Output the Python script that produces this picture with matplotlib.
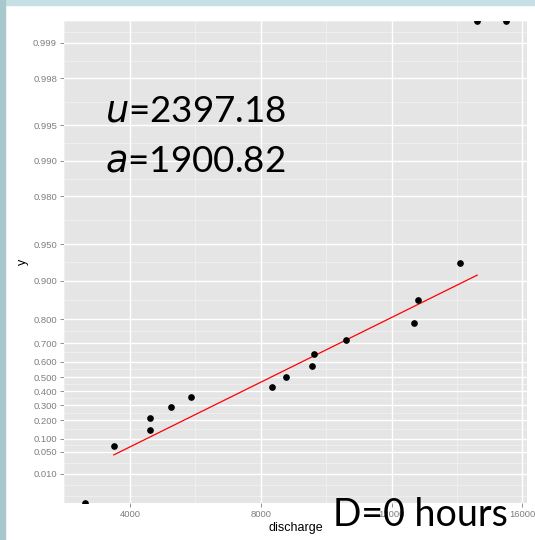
import numpy as np
import matplotlib.pyplot as plt
from matplotlib.patches import Rectangle

# annual maximum discharge and plotting positions
discharge = [2630, 3509, 4623, 4623, 5258, 5871, 8337, 8767, 9555, 9626,
             10607, 12684, 12807, 14095, 14617, 15497]
prob = [0.0, 0.071, 0.214, 0.143, 0.286, 0.357, 0.429, 0.500, 0.571, 0.643,
        0.714, 0.786, 0.857, 0.929, 1.0, 1.0]

# fitted Gumbel line (location / scale in discharge units)
fit_loc = 7156
fit_scale = 3158
fit_x = [3509, 14617]

y_breaks = [0.010, 0.050, 0.100, 0.200, 0.300, 0.400, 0.500, 0.600, 0.700,
            0.800, 0.900, 0.950, 0.980, 0.990, 0.995, 0.998, 0.999]
y_limits = [0.005, 0.999]
x_breaks = [4000, 8000, 12000, 16000]

u_text = "2397.18"
a_text = "1900.82"
panel_title = "D=0 hours"


def gumbel(p):
    """reduced Gumbel variate -log(-log(p))"""
    with np.errstate(divide='ignore'):
        return -np.log(-np.log(np.asarray(p, dtype=float)))


def minor_breaks(b, lo, hi):
    """ggplot-style minor breaks: midpoints, extended by one step each side"""
    b = list(b)
    bd = b[1] - b[0]
    if lo < b[0]:
        b = [b[0] - bd] + b
    if hi > b[-1]:
        b = b + [b[-1] + bd]
    mids = [(b[i] + b[i + 1]) / 2 for i in range(len(b) - 1)]
    return sorted(b + mids)


W, H = 535, 540
fig = plt.figure(figsize=(W / 100, H / 100), dpi=100)
fig.patch.set_facecolor('white')
# slide frame
fig.patches.append(Rectangle((0, 1 - 5 / H), 1, 5 / H, transform=fig.transFigure,
                             color='#c5dfe3', zorder=0))
fig.patches.append(Rectangle((0, 0), 5 / W, 1, transform=fig.transFigure,
                             color='#a9c8cd', zorder=0))

ax = fig.add_axes([64 / W, (H - 503) / H, 463 / W, 482 / H])
ax.set_facecolor('#E5E5E5')
for s in ax.spines.values():
    s.set_visible(False)

# scale limits with 5% expansion
g_lo, g_hi = gumbel(y_limits)
gpad = 0.05 * (g_hi - g_lo)
ylim = (g_lo - gpad, g_hi + gpad)
x_lo, x_hi = min(discharge), max(discharge)
xpad = 0.05 * (x_hi - x_lo)
xlim = (x_lo - xpad, x_hi + xpad)

yb = list(gumbel(y_breaks))
y_minor = minor_breaks(yb, *ylim)
x_minor = minor_breaks(x_breaks, *xlim)

for v in y_minor:
    ax.axhline(v, color='#F2F2F2', lw=0.55, zorder=1)
for v in x_minor:
    ax.axvline(v, color='#F2F2F2', lw=0.55, zorder=1)
for v in yb:
    ax.axhline(v, color='white', lw=1.0, zorder=2)
for v in x_breaks:
    ax.axvline(v, color='white', lw=1.0, zorder=2)

# points; p = 0 or 1 sit on the panel edge
gy = np.clip(gumbel(prob), ylim[0], ylim[1])
ax.plot(discharge, gy, 'o', color='black', ms=3.8, zorder=4, clip_on=True)

fx = np.array(fit_x, dtype=float)
ax.plot(fx, (fx - fit_loc) / fit_scale, color='red', lw=0.9, zorder=3)

ax.set_xlim(xlim)
ax.set_ylim(ylim)
ax.set_xticks(x_breaks)
ax.set_xticklabels([str(v) for v in x_breaks])
ax.set_yticks(yb)
ax.set_yticklabels([f"{v:.3f}" for v in y_breaks])
ax.tick_params(axis='both', colors='#7F7F7F', labelcolor='#7F7F7F',
               labelsize=6.8, length=3, width=0.6, pad=2)
for lab in ax.get_xticklabels() + ax.get_yticklabels():
    lab.set_family('Liberation Sans')

ax.set_xlabel('discharge', fontsize=9, family='Liberation Sans', labelpad=2)
ax.set_ylabel('y', fontsize=9, family='Liberation Sans', labelpad=3)

# slide annotations
fig.text(105 / W, 1 - 122 / H, f"$\\mathit{{u}}$={u_text}", fontsize=26.5,
         family='Lato', va='baseline', ha='left')
fig.text(105 / W, 1 - 172 / H, f"$\\mathit{{a}}$={a_text}", fontsize=26.5,
         family='Lato', va='baseline', ha='left')
fig.text(333 / W, 1 - 526 / H, panel_title, fontsize=27,
         family='Lato', va='baseline', ha='left')

fig.savefig('out.png', dpi=100)
